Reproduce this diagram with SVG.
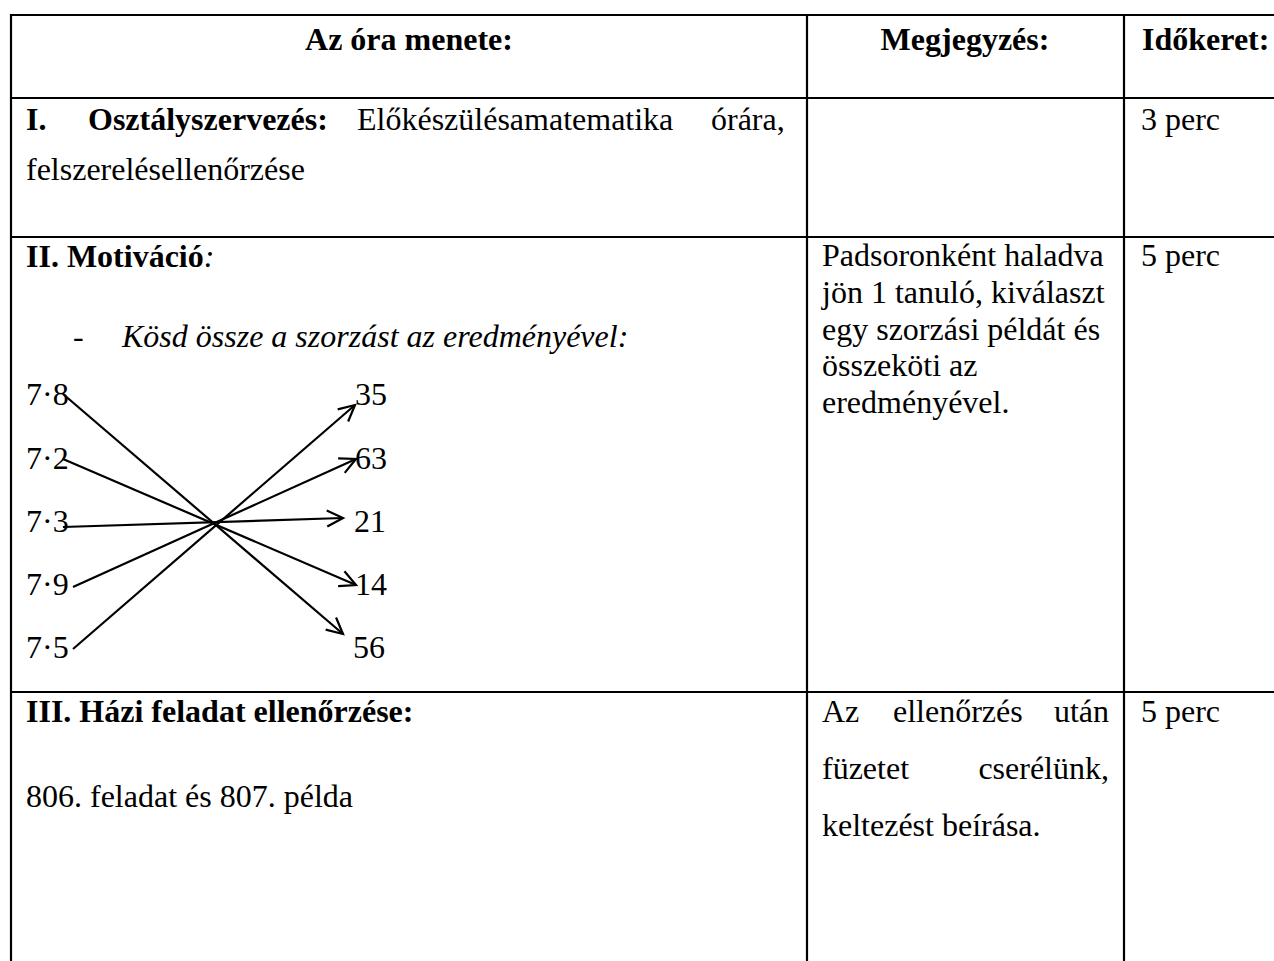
<svg xmlns="http://www.w3.org/2000/svg" width="1274" height="961" viewBox="0 0 1274 961">
<style>
text{font-family:"Liberation Serif","Times New Roman",serif;font-size:32px;fill:#000}
.b{font-weight:bold}
.i{font-style:italic}
.grid{stroke:#000;stroke-width:2.2;fill:none}
.conn{stroke:#000;stroke-width:2.2;fill:none}
</style>
<defs>
<marker id="arr" markerUnits="userSpaceOnUse" markerWidth="24" markerHeight="24" viewBox="-20 -12 24 24" refX="0" refY="0" orient="auto">
<path d="M -16 -8 L 0 0 L -16 8" fill="none" stroke="#000" stroke-width="2.2"/>
</marker>
</defs>
<rect width="1274" height="961" fill="#fff"/>
<g id="grid" class="grid">
<line x1="10" y1="15" x2="1274" y2="15"/>
<line x1="10" y1="98" x2="1274" y2="98"/>
<line x1="10" y1="237" x2="1274" y2="237"/>
<line x1="10" y1="692" x2="1274" y2="692"/>
<line x1="11" y1="14" x2="11" y2="961"/>
<line x1="807" y1="14" x2="807" y2="961"/>
<line x1="1124" y1="14" x2="1124" y2="961"/>
</g>
<g id="header">
<text class="b" x="409" y="50" text-anchor="middle">Az óra menete:</text>
<text class="b" x="965" y="50" text-anchor="middle">Megjegyzés:</text>
<text class="b" x="1142" y="50">Időkeret:</text>
</g>
<g id="row1">
<text class="b" x="26" y="130">I.</text>
<text class="b" x="88" y="130">Osztályszervezés:</text>
<text x="357" y="130">Előkészülésamatematika</text>
<text x="711" y="130">órára,</text>
<text x="26" y="180">felszerelésellenőrzése</text>
<text x="1141" y="130">3 perc</text>
</g>
<g id="row2">
<text x="26" y="267"><tspan class="b">II. Motiváció</tspan><tspan class="i">:</tspan></text>
<text x="73" y="347">-</text>
<text class="i" x="122" y="347">Kösd össze a szorzást az eredményével:</text>
<g id="left-items">
<text x="26" y="405">7·8</text>
<text x="26" y="469">7·2</text>
<text x="26" y="532">7·3</text>
<text x="26" y="595">7·9</text>
<text x="26" y="658">7·5</text>
</g>
<g id="right-items">
<text x="355" y="405">35</text>
<text x="355" y="469">63</text>
<text x="354" y="532">21</text>
<text x="355" y="595">14</text>
<text x="353" y="658">56</text>
</g>
<text x="822" y="266">Padsoronként haladva</text>
<text x="822" y="303">jön 1 tanuló, kiválaszt</text>
<text x="822" y="340">egy szorzási példát és</text>
<text x="822" y="376">összeköti az</text>
<text x="822" y="413">eredményével.</text>
<text x="1141" y="266">5 perc</text>
</g>
<g id="connectors" class="conn">
<line x1="63" y1="394" x2="343" y2="634" marker-end="url(#arr)"/>
<line x1="63" y1="459" x2="356" y2="585" marker-end="url(#arr)"/>
<line x1="63" y1="527" x2="343" y2="518" marker-end="url(#arr)"/>
<line x1="73" y1="587" x2="356" y2="459" marker-end="url(#arr)"/>
<line x1="73" y1="649" x2="355" y2="405" marker-end="url(#arr)"/>
</g>
<g id="row3">
<text class="b" x="26" y="722">III. Házi feladat ellenőrzése:</text>
<text x="26" y="807">806. feladat és 807. példa</text>
<text x="822" y="722">Az</text>
<text x="893" y="722">ellenőrzés</text>
<text x="1109" y="722" text-anchor="end">után</text>
<text x="822" y="779">füzetet</text>
<text x="1109" y="779" text-anchor="end">cserélünk,</text>
<text x="822" y="836">keltezést beírása.</text>
<text x="1141" y="722">5 perc</text>
</g>
</svg>
